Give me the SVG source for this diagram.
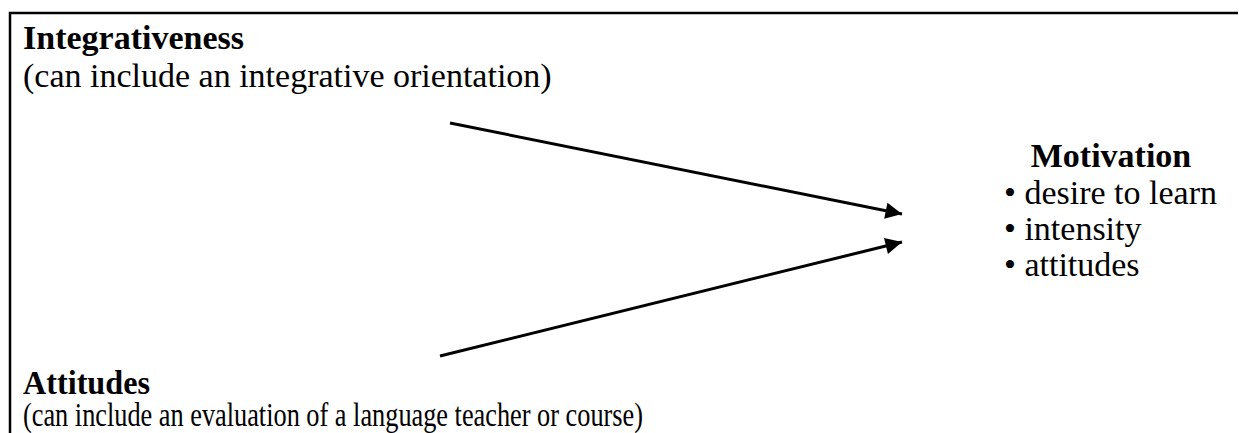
<svg xmlns="http://www.w3.org/2000/svg" width="1239" height="433" viewBox="0 0 1239 433">
  <style>
    .t { font-family: "Liberation Serif", "Times New Roman", serif; font-size: 34px; fill: #000; }
    .b { font-weight: bold; }
    .conn { stroke: #000; stroke-width: 3; fill: none; }
    .frame { stroke: #000; stroke-width: 2.5; fill: none; }
  </style>
  <defs>
    <marker id="arrow" viewBox="0 0 10 10" refX="10" refY="5" markerWidth="7" markerHeight="5.5" markerUnits="strokeWidth" orient="auto">
      <path d="M0,0 L10,5 L0,10 Z" fill="#000"/>
    </marker>
  </defs>
  <rect x="0" y="0" width="1239" height="433" fill="#fff"/>
  <path class="frame" d="M10,433 L10,13 L1238,13"/>
  <g id="integrativeness">
    <text class="t b" x="23" y="49">Integrativeness</text>
    <text class="t" x="23" y="87">(can include an integrative orientation)</text>
  </g>
  <g id="attitudes">
    <text class="t b" x="23" y="394" textLength="127" lengthAdjust="spacingAndGlyphs">Attitudes</text>
    <text class="t" x="23" y="426" textLength="620" lengthAdjust="spacingAndGlyphs">(can include an evaluation of a language teacher or course)</text>
  </g>
  <g id="motivation">
    <text class="t b" x="1111" y="167" text-anchor="middle">Motivation</text>
    <text class="t" x="1004" y="204">• desire to learn</text>
    <text class="t" x="1004" y="240">• intensity</text>
    <text class="t" x="1004" y="276">• attitudes</text>
  </g>
  <g id="connectors">
    <line class="conn" x1="450" y1="123" x2="902" y2="214" marker-end="url(#arrow)"/>
    <line class="conn" x1="440" y1="356" x2="902" y2="242" marker-end="url(#arrow)"/>
  </g>
</svg>
